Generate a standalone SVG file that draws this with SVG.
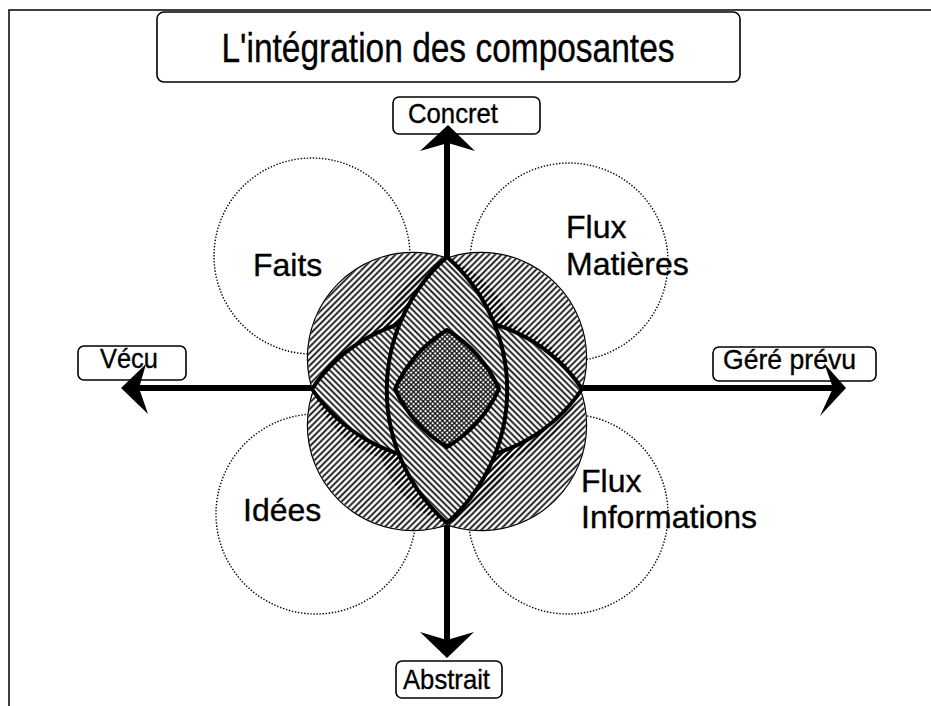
<svg xmlns="http://www.w3.org/2000/svg" width="931" height="706" viewBox="0 0 931 706">
<style>
text{font-family:"Liberation Sans",Arial,sans-serif;fill:#000;stroke:#000;stroke-width:0.35}
.lbl{font-size:28px}
.big{font-size:32px}
.box{fill:#fff;stroke:#000;stroke-width:1.6}
.dot{fill:none;stroke:#000;stroke-width:1.4;stroke-dasharray:1.4 1.7}
.axis{stroke:#000;stroke-width:6;fill:none}
.bold{stroke:#000;stroke-width:4;stroke-linejoin:round}
</style>
<defs>
<pattern id="hf" patternUnits="userSpaceOnUse" width="4.4" height="4.4" patternTransform="rotate(45)">
<line x1="2.2" y1="-1" x2="2.2" y2="6" stroke="#000" stroke-width="1.7"/>
</pattern>
<pattern id="hb" patternUnits="userSpaceOnUse" width="4.4" height="4.4" patternTransform="rotate(-45)">
<line x1="2.2" y1="-1" x2="2.2" y2="6" stroke="#000" stroke-width="1.7"/>
</pattern>
<pattern id="hx" patternUnits="userSpaceOnUse" width="3.4" height="3.4" patternTransform="rotate(45)">
<rect width="3.4" height="3.4" fill="#fff"/>
<line x1="1.7" y1="-1" x2="1.7" y2="5" stroke="#000" stroke-width="1.2"/>
<line x1="-1" y1="1.7" x2="5" y2="1.7" stroke="#000" stroke-width="1.2"/>
</pattern>
</defs>
<rect width="931" height="706" fill="#fff"/>
<path d="M9,706 V10 H931" fill="none" stroke="#000" stroke-width="1.5"/>

<g id="title">
<rect class="box" x="157" y="12" width="583" height="70" rx="7"/>
<text x="448" y="62" font-size="40" text-anchor="middle" textLength="453" lengthAdjust="spacingAndGlyphs">L'intégration des composantes</text>
</g>

<g id="faits-circle"><circle class="dot" cx="312" cy="256" r="98"/></g>
<g id="matieres-circle"><circle class="dot" cx="569" cy="262" r="99"/></g>
<g id="idees-circle"><circle class="dot" cx="316" cy="514" r="100"/></g>
<g id="info-circle"><circle class="dot" cx="568" cy="514" r="100"/></g>

<g id="concret">
<rect class="box" x="393" y="97" width="147" height="37" rx="6"/>
<text class="lbl" x="408" y="123" textLength="90" lengthAdjust="spacingAndGlyphs">Concret</text>
</g>
<g id="vecu">
<rect class="box" x="78" y="346" width="108" height="34" rx="6"/>
<text class="lbl" x="100" y="368" textLength="58" lengthAdjust="spacingAndGlyphs">Vécu</text>
</g>
<g id="gere">
<rect class="box" x="713" y="347" width="163" height="34" rx="6"/>
<text class="lbl" x="723" y="369" textLength="133" lengthAdjust="spacingAndGlyphs">Géré prévu</text>
</g>
<g id="abstrait">
<rect class="box" x="396" y="661" width="106" height="37" rx="6"/>
<text class="lbl" x="403" y="689" textLength="87" lengthAdjust="spacingAndGlyphs">Abstrait</text>
</g>

<g id="axes">
<line class="axis" x1="447" y1="143" x2="447" y2="640"/>
<line class="axis" x1="139" y1="388" x2="833" y2="388"/>
<polygon points="448,125 475,151 448,143 420,151" fill="#000"/>
<polygon points="447,658 420,632 447,640 474,632" fill="#000"/>
<polygon points="121,388 146,364 139,388 148,414" fill="#000"/>
<polygon points="846,388 824,363 833,388 820,416" fill="#000"/>
</g>

<g id="center">
<g fill="#fff" stroke="#000" stroke-width="2.4">
<circle cx="413" cy="358" r="105"/>
<circle cx="481" cy="358" r="105"/>
<circle cx="413" cy="425" r="105"/>
<circle cx="481" cy="425" r="105"/>
</g>
<g fill="#fff">
<circle cx="413" cy="358" r="105"/>
<circle cx="481" cy="358" r="105"/>
<circle cx="413" cy="425" r="105"/>
<circle cx="481" cy="425" r="105"/>
</g>
<g fill="url(#hf)">
<circle cx="413" cy="358" r="105"/>
<circle cx="481" cy="358" r="105"/>
<circle cx="413" cy="425" r="105"/>
<circle cx="481" cy="425" r="105"/>
</g>
<path d="M312,389 A162.6,162.6 0 0 1 582,389 A162.6,162.6 0 0 1 312,389 Z" fill="#fff"/>
<path class="bold" d="M312,389 A162.6,162.6 0 0 1 582,389 A162.6,162.6 0 0 1 312,389 Z" fill="url(#hb)"/>
<path d="M447,257 A177,177 0 0 0 447,523 A177,177 0 0 0 447,257 Z" fill="#fff"/>
<path class="bold" d="M447,257 A177,177 0 0 0 447,523 A177,177 0 0 0 447,257 Z" fill="url(#hb)"/>
<path class="bold" d="M447,330 A132,132 0 0 1 499,389 A132,132 0 0 1 447,447 A132,132 0 0 1 395,389 A132,132 0 0 1 447,330 Z" fill="url(#hx)"/>
</g>

<g id="faits"><text class="big" x="253" y="276">Faits</text></g>
<g id="flux-matieres"><text class="big" x="566" y="238">Flux</text><text class="big" x="566" y="275">Matières</text></g>
<g id="idees"><text class="big" x="243" y="521">Idées</text></g>
<g id="flux-info"><text class="big" x="581" y="492">Flux</text><text class="big" x="581" y="528">Informations</text></g>
</svg>
